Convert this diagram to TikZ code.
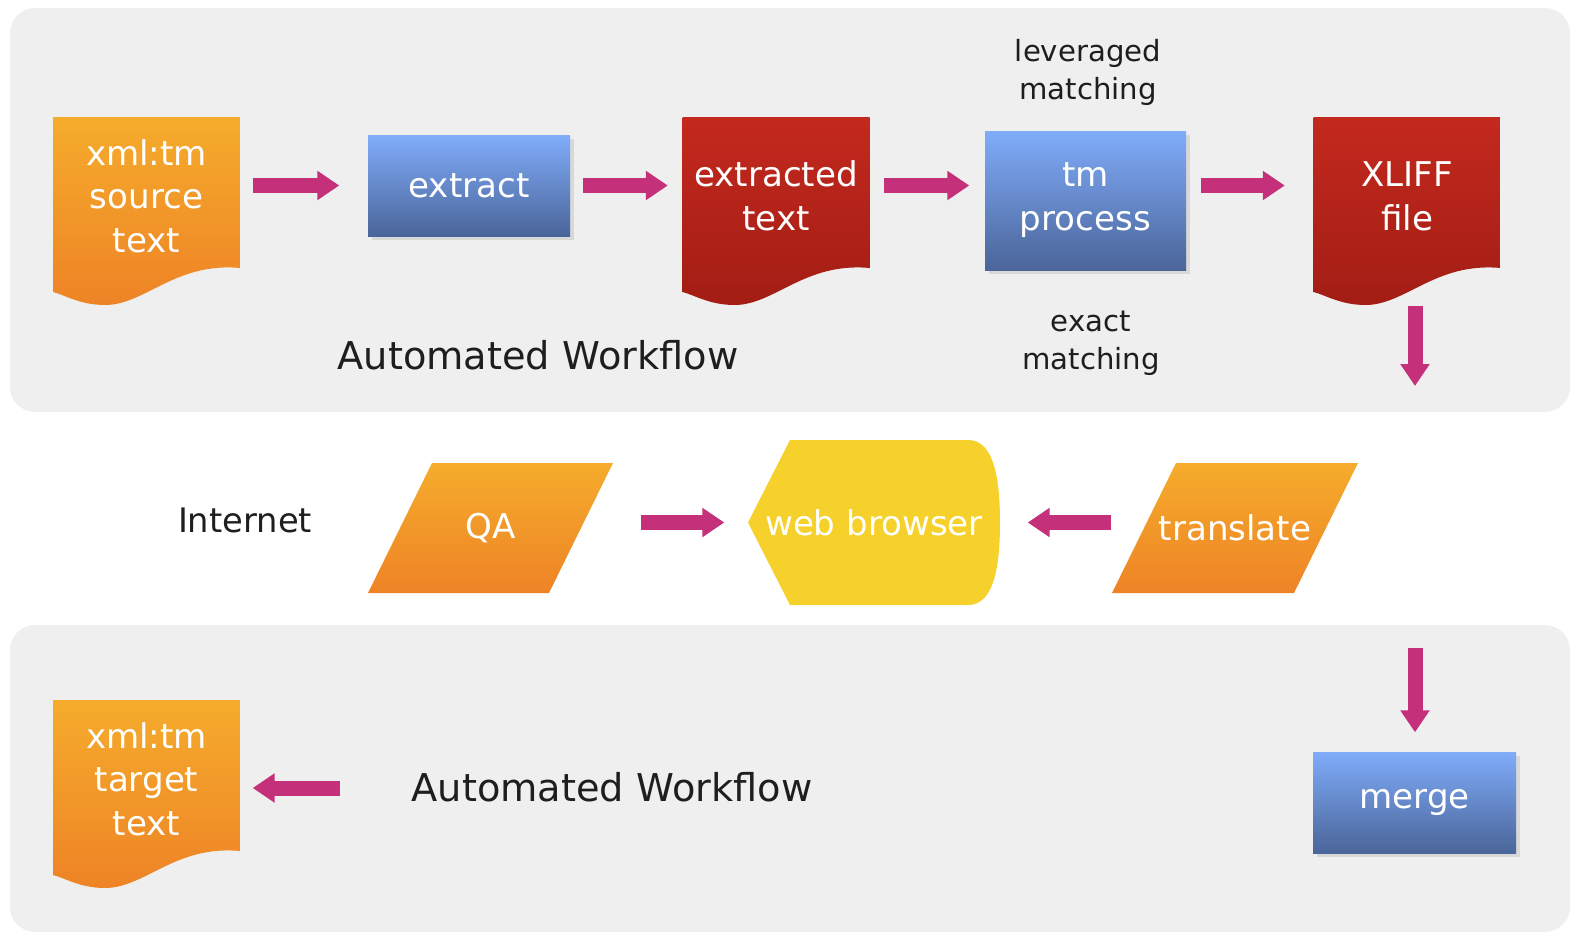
\documentclass[tikz,border=0pt]{standalone}
\usepackage{fontspec}
\setmainfont{DejaVu Sans}
\usepackage{tikz}
\usetikzlibrary{arrows.meta,shadows}
\definecolor{panelgray}{HTML}{EFEFEF}
\definecolor{orangetop}{HTML}{F5AC2C}
\definecolor{orangebot}{HTML}{EE8326}
\definecolor{redtop}{HTML}{C4291E}
\definecolor{redbot}{HTML}{A21D14}
\definecolor{bluetop}{HTML}{80ACFA}
\definecolor{bluebot}{HTML}{4A6599}
\definecolor{webyellow}{HTML}{F6D12B}
\definecolor{arrowpink}{HTML}{C5307A}
\definecolor{labelgray}{HTML}{1E1E1E}
\newcommand{\boxfont}{\fontsize{9.7}{12.5}\selectfont}
\tikzstyle{io}    = [rectangle, minimum width=2.45cm, minimum height=1.3cm, inner sep=0pt, text centered, text=white, font=\boxfont,
		path picture={
				\shade[top color=orangetop, bottom color=orangebot]
				([xshift=0.64cm]path picture bounding box.north west) -- (path picture bounding box.north east)
				-- ([xshift=-0.64cm]path picture bounding box.south east) -- (path picture bounding box.south west) -- cycle;
			}]
\tikzstyle{arrow} = [line width=0.15cm, draw=arrowpink, -{Triangle[length=0.22cm,width=0.28cm]}]

\begin{document}
\begin{tikzpicture}[
			proc/.style={rectangle, minimum width=2.02cm, minimum height=1.01cm, inner sep=0pt, align=center, text=white, font=\boxfont,
					top color=bluetop, bottom color=bluebot, drop shadow={shadow xshift=0.04cm, shadow yshift=-0.04cm, opacity=0.2}},
			doc/.style 2 args={rectangle, minimum width=1.87cm, minimum height=1.88cm, inner sep=0pt, align=center, text=white, font=\boxfont, text depth=0.3cm,
					path picture={
							\shade[top color=#1, bottom color=#2]
							(path picture bounding box.north west) -- (path picture bounding box.north east)
							-- ([yshift=0.37cm]path picture bounding box.south east)
							.. controls +(-0.65,0.06) and +(0.40,0) .. ([xshift=0.52cm]path picture bounding box.south west)
							.. controls +(-0.25,0) and +(0.12,-0.03) .. ([yshift=0.13cm]path picture bounding box.south west)
							-- cycle;
						}},
			web/.style={rectangle, minimum width=2.52cm, minimum height=1.65cm, inner sep=0pt, text=white, font=\boxfont,
					path picture={
							\fill[webyellow]
							([xshift=0.42cm]path picture bounding box.north west) -- ([xshift=-0.32cm]path picture bounding box.north east)
							.. controls +(0.24,0) and +(0,0.5) .. (path picture bounding box.east)
							.. controls +(0,-0.5) and +(0.24,0) .. ([xshift=-0.32cm]path picture bounding box.south east)
							-- ([xshift=0.42cm]path picture bounding box.south west) -- (path picture bounding box.west) -- cycle;
						}},
			title/.style={text=labelgray, font=\fontsize{10.9}{13}\selectfont},
			note/.style={align=center, text=labelgray, font=\fontsize{8.3}{10.8}\selectfont},
		]

		\useasboundingbox (0,0) rectangle (15.75,9.37);

		% workflow panels
		\fill[panelgray, rounded corners=0.25cm] (0.10,5.25) rectangle (15.70,9.29);
		\fill[panelgray, rounded corners=0.25cm] (0.10,0.05) rectangle (15.70,3.12);

		% top row
		\node[doc={orangetop}{orangebot}] (src) at (1.465,7.26) {xml:tm\\source\\text};
		\node[proc] (ext) at (4.69,7.515) {extract};
		\node[doc={redtop}{redbot}] (xtxt) at (7.76,7.26) {extracted\\text};
		\node[proc, minimum width=2.01cm, minimum height=1.39cm] (tmp) at (10.855,7.365) {tm\\process};
		\node[doc={redtop}{redbot}] (xlf) at (14.07,7.26) {XLIFF\\file};
		\node[note] (lev) at (10.88,8.65) {leveraged\\matching};
		\node[note] (exa) at (10.91,5.935) {exact\\matching};
		\node[title] (auto1) at (5.38,5.82) {Automated Workflow};

		% internet row
		\node[title, font=\fontsize{9.6}{12}\selectfont] (net) at (2.45,4.17) {Internet};
		\node[io] (qa) at (4.905,4.09) {QA};
		\node[web] (web) at (8.74,4.145) {web browser};
		\node[io, minimum width=2.46cm] (trans) at (12.35,4.09) {translate};

		% bottom row
		\node[proc, minimum width=2.03cm] (mrg) at (14.145,1.345) {merge};
		\node[doc={orangetop}{orangebot}] (tgt) at (1.465,1.43) {xml:tm\\target\\text};
		\node[title] (auto2) at (6.12,1.50) {Automated Workflow};

		\coordinate (xout) at (14.15,5.51);
		\coordinate (min) at (14.15,2.89);
		\coordinate (mout) at (3.40,1.49);

		\draw[arrow, shorten <=0.12cm, shorten >=0.28cm] (src.east |- ext.west) -- (ext.west);
		\draw[arrow, shorten <=0.12cm, shorten >=0.14cm] (ext.east) -- (xtxt.west |- ext.east);
		\draw[arrow, shorten <=0.14cm, shorten >=0.15cm] (xtxt.east |- ext.east) -- (tmp.west |- ext.east);
		\draw[arrow, shorten <=0.14cm, shorten >=0.28cm] (tmp.east |- ext.east) -- (xlf.west |- ext.east);
		\draw[arrow] (xlf.south -| xout) -- (xout);

		\draw[arrow, shorten <=0.27cm, shorten >=0.23cm] (qa.east |- web.west) -- (web.west);
		\draw[arrow, shorten >=0.27cm] (trans.west |- web.east) -- (web.east);

		\draw[arrow, shorten >=0.19cm] (min) -- (min |- mrg.north);
		\draw[arrow, shorten >=0.12cm] (mout) -- (mout -| tgt.east);
	\end{tikzpicture}
\end{document}
